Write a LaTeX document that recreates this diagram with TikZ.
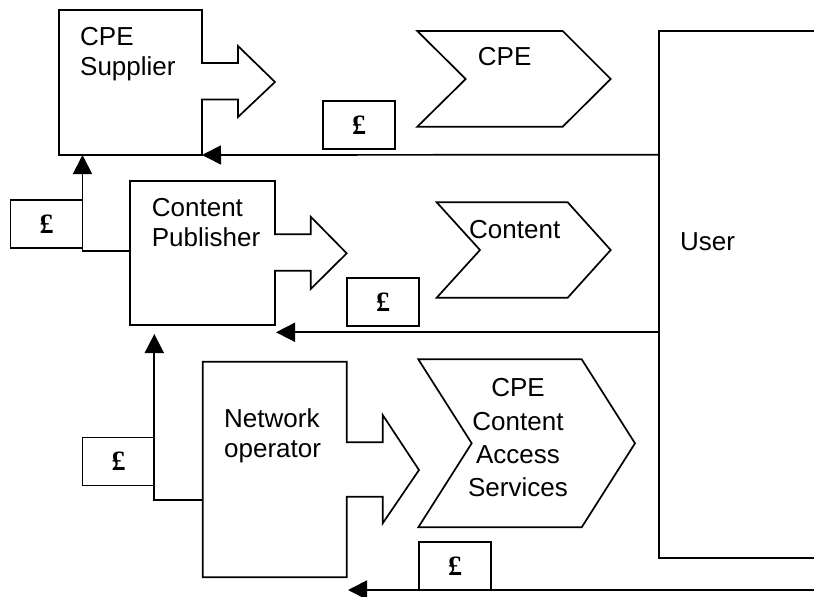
\documentclass[tikz,border=0pt]{standalone}
\usepackage{fontspec}
\setmainfont{Liberation Sans}
\newfontfamily\poundfont{Liberation Serif}
\usetikzlibrary{arrows.meta}
\begin{document}
\begin{tikzpicture}[x=1pt,y=-1pt,
  shp/.style={draw,line width=1.7pt,line join=miter},
  conn/.style={draw,line width=1.7pt,-{Triangle[length=19pt,width=19pt]}},
  lbl/.style={inner sep=0pt,font=\fontsize{26}{30.5}\selectfont,align=left,anchor=base west},
  clbl/.style={inner sep=0pt,font=\fontsize{26}{33.3}\selectfont,align=center,anchor=base},
  money/.style={draw,line width=1.7pt,minimum width=72pt,minimum height=48pt,inner sep=0pt,
    font=\poundfont\bfseries\fontsize{28}{28}\selectfont}
]
\useasboundingbox (0,0) rectangle (814,597);
\clip (0,0) rectangle (814,597);

% CPE Supplier box with block arrow
\draw[shp] (59,10) -- (202,10) -- (202,63) -- (238,63) -- (238,46) -- (275,82)
  -- (238,117) -- (238,99.5) -- (202,99.5) -- (202,155) -- (59,155) -- cycle;
\node[lbl] (cpesup) at (80,75.5) {CPE\\Supplier};
\coordinate (cs-br) at (202,155);
\coordinate (cs-b) at (82.5,155);

% Content Publisher box
\draw[shp] (130,181) -- (275,181) -- (275,234.3) -- (310.7,234.3) -- (310.7,216.7)
  -- (346.7,253.3) -- (310.7,289) -- (310.7,270.7) -- (275,270.7) -- (275,325)
  -- (130,325) -- cycle;
\node[lbl] (cpub) at (151.7,246.5) {Content\\Publisher};
\coordinate (cp-w) at (130,250.7);
\coordinate (cp-b) at (154.3,334);
\coordinate (cp-br) at (276,332.3);

% Network operator box
\draw[shp] (202.7,361.7) -- (346.7,361.7) -- (346.7,442.3) -- (382.7,442.3) -- (382.7,415)
  -- (419,470) -- (382.7,523.3) -- (382.7,496.7) -- (346.7,496.7) -- (346.7,577.3)
  -- (202.7,577.3) -- cycle;
\node[lbl] (netop) at (224,457.8) {Network\\operator};
\coordinate (no-w) at (202.7,500);
\coordinate (no-br) at (348,590);

% Chevrons
\draw[shp] (417.3,31) -- (562.7,31) -- (610.7,79) -- (562.7,126.7) -- (417.3,126.7)
  -- (465.7,79) -- cycle;
\node[lbl] (cpe) at (477.7,65.7) {CPE};

\draw[shp] (436.7,202.3) -- (567.7,202.3) -- (610.7,250) -- (567.7,297.7) -- (436.7,297.7)
  -- (480,250) -- cycle;
\node[lbl] (content) at (469,238.3) {Content};

\draw[shp] (418.3,359.3) -- (581.7,359.3) -- (635,443.3) -- (581.7,527.3) -- (418.3,527.3)
  -- (471.7,443.3) -- cycle;
\node[clbl] (cas) at (518,496.6) {CPE\\Content\\Access\\Services};

% User box
\draw[shp] (820,31) -- (659,31) -- (659,558.3) -- (820,558.3);
\node[lbl] (user) at (680,250) {User};
\coordinate (u1) at (659,154.7);
\coordinate (u2) at (659,332.3);
\coordinate (u3) at (816,590);

% Money boxes
\node[money] (m1) at (359,125) {\raisebox{-5pt}{£}};
\node[money] (m2) at (46.5,224.2) {\raisebox{-5pt}{£}};
\node[money] (m3) at (383,302) {\raisebox{-5pt}{£}};
\node[money] (m4) at (118.5,461.5) {\raisebox{-5pt}{£}};
\node[money] (m5) at (455,566) {\raisebox{-5pt}{£}};

% Connectors
\draw[conn] (u1) -- (cs-br);
\draw[conn] (cp-w) -| (cs-b);
\draw[conn] (u2) -- (cp-br);
\draw[conn] (no-w) -| (cp-b);
\draw[conn] (u3) -- (no-br);
\end{tikzpicture}
\end{document}
